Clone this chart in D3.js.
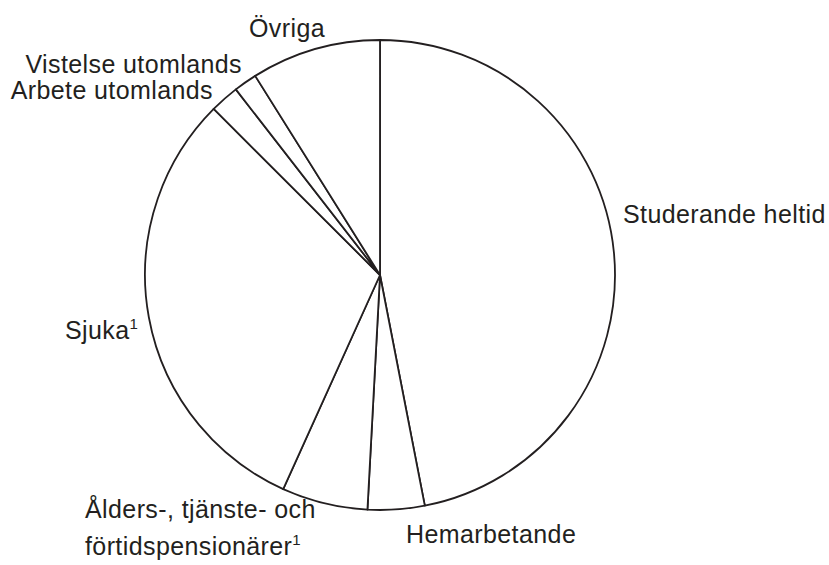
<!DOCTYPE html>
<html>
<head>
<meta charset="utf-8">
<script src="https://cdn.jsdelivr.net/npm/d3@7"></script>
<style>
  body { margin: 0; background: #fff; }
  text { font-family: "Liberation Sans", Arial, sans-serif; fill: #231f20; }
</style>
</head>
<body>
<div id="chart"></div>
<script>
// data, in percent, clockwise from 12 o'clock
const categories = ["Studerande heltid", "Hemarbetande", "Ålders-, tjänste- och förtidspensionärer", "Sjuka", "Arbete utomlands", "Vistelse utomlands", "Övriga"];
const values = [46.9, 3.9, 5.9, 30.7, 2.0, 1.6, 8.9];

const width = 829, height = 565;
const cx = 380, cy = 275, radius = 235;

const svg = d3.select("#chart").append("svg")
    .attr("width", width)
    .attr("height", height);

const g = svg.append("g")
    .attr("transform", `translate(${cx}, ${cy})`);

const pie = d3.pie().sort(null).value(d => d[1]);
const arcGen = d3.arc().innerRadius(0).outerRadius(radius);

const data_ready = pie(categories.map((c, i) => [c, values[i]]));

g.selectAll("path")
  .data(data_ready)
  .join("path")
    .attr("d", arcGen)
    .attr("fill", "white")
    .attr("stroke", "#231f20")
    .attr("stroke-width", 1.8)
    .attr("stroke-linejoin", "round");

// label placement (page coordinates), lines of each label
const labels = [
  { lines: ["Studerande heltid"], x: 623, y: 223, anchor: "start" },
  { lines: ["Hemarbetande"], x: 406, y: 543, anchor: "start" },
  { lines: ["Ålders-, tjänste- och", "förtidspensionärer¹"], x: 85, y: 518, anchor: "start" },
  { lines: ["Sjuka¹"], x: 65, y: 339, anchor: "start" },
  { lines: ["Arbete utomlands"], x: 213, y: 99, anchor: "end" },
  { lines: ["Vistelse utomlands"], x: 242, y: 73, anchor: "end" },
  { lines: ["Övriga"], x: 287, y: 37, anchor: "middle" }
];

labels.forEach(l => {
  const t = svg.append("text")
    .attr("x", l.x).attr("y", l.y)
    .attr("text-anchor", l.anchor)
    .style("font-size", "25px")
    .style("letter-spacing", "0.4px");
  l.lines.forEach((line, i) => {
    const m = line.match(/^(.*?)(¹)?$/);
    t.append("tspan").attr("x", l.x).attr("y", l.y + i * 37).text(m[1]);
    if (m[2]) {
      t.append("tspan").attr("dy", -10).style("font-size", "15px").text("1");
    }
  });
});
</script>
</body>
</html>
